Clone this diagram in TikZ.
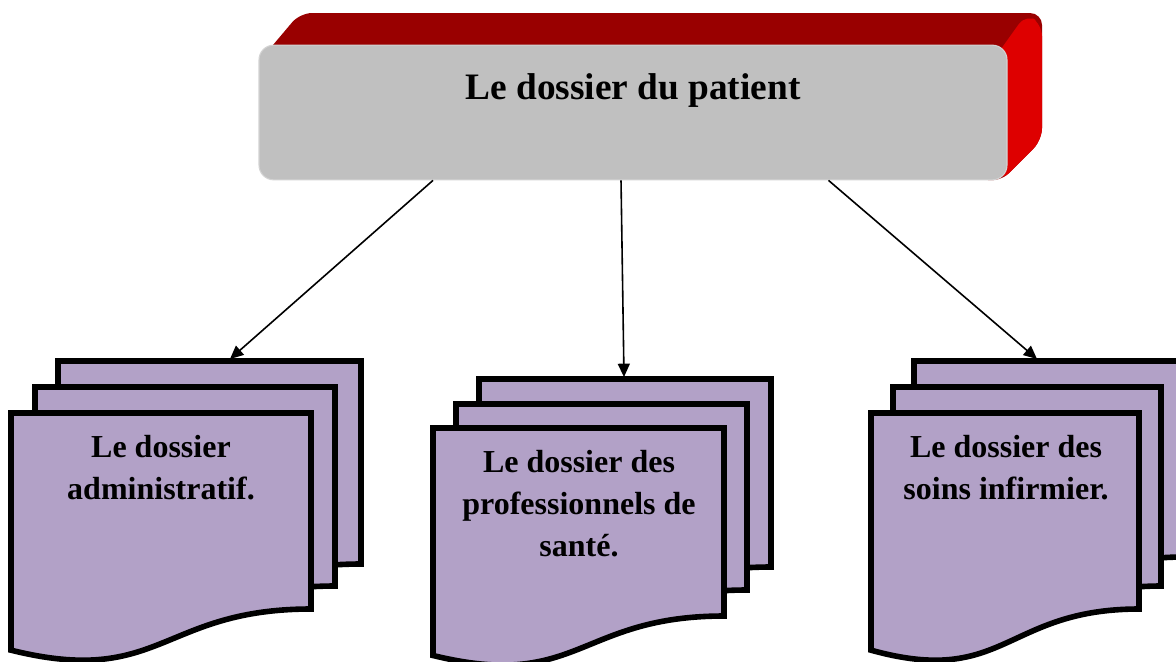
\documentclass[tikz,border=0pt]{standalone}
\usepackage{fontspec}
\setmainfont{Liberation Serif}
\usetikzlibrary{arrows.meta,calc,positioning}

\definecolor{pagefill}{RGB}{178,161,199}
\definecolor{boxgray}{RGB}{192,192,192}
\definecolor{topred}{RGB}{153,0,0}
\definecolor{sidered}{RGB}{222,0,0}

\tikzset{
  page/.style={fill=pagefill, draw=black, line width=4.2pt, line join=miter},
  titlebox/.style={rectangle, rounded corners=11pt, fill=boxgray, draw=boxgray!70!white, line width=0.8pt, minimum width=561pt, minimum height=101pt, inner sep=0pt},
  titletext/.style={font=\fontsize{28}{34}\selectfont\bfseries, inner sep=0pt},
  pagetext/.style={font=\fontsize{24}{31.5}\selectfont\bfseries, align=center, inner sep=0pt},
  link/.style={-{Triangle[length=10pt,width=9pt]}, line width=1.2pt},
  pics/docpage/.style args={#1/#2}{code={
    \draw[page, yscale=-1] (0,0) -- (#1,0) -- (#1,#2) .. controls (0.5*#1,#2) and (0.5*#1,1.4*#2) .. (0,1.21*#2) -- cycle;
  }},
}

\begin{document}
\begin{tikzpicture}[x=0.75pt,y=0.75pt,yscale=-1,xscale=1]
\useasboundingbox (0,0) rectangle (1176,661);

% red block behind the title
\fill[topred, rounded corners=9pt] (262,58) -- (300,13) -- (1042,13) -- (1042,140) -- (1000,182) -- cycle;
\fill[sidered, rounded corners=9pt] (996,56) -- (1026,14) -- (1042,24) -- (1042,140) -- (1000,182) -- cycle;

% title
\node[titlebox] (patient) at (633,112.5) {};
\node[titletext, anchor=base] (patienttxt) at (633,99) {Le dossier du patient};

% left stack
\pic (admback) at (58,361) {docpage=303/203};
\pic (admmid) at (35,387) {docpage=300/199};
\pic (admfront) at (11,413) {docpage=300/196};
\node[pagetext, anchor=base] (admtxt) at (161,499) {Le dossier\\administratif.};

% middle stack
\pic (proback) at (479,379) {docpage=292/188};
\pic (promid) at (456,404) {docpage=291/186};
\pic (profront) at (433,428) {docpage=291/188};
\node[pagetext, anchor=base] (protxt) at (579,556) {Le dossier des\\professionnels de\\sant\'e.};

% right stack
\pic (soiback) at (914,361) {docpage=270/196};
\pic (soimid) at (893,387) {docpage=268/199};
\pic (soifront) at (871,413) {docpage=268/196};
\node[pagetext, anchor=base] (soitxt) at (1006,499) {Le dossier des\\soins infirmier.};

% arrows
\coordinate (admtip) at (230,359);
\coordinate (protip) at (624,377);
\coordinate (soitip) at (1037,359);
\draw[link] ($(patient.south west)!0.233!(patient.south east)$) -- (admtip);
\draw[link] ($(patient.south west)!0.484!(patient.south east)$) -- (protip);
\draw[link] ($(patient.south west)!0.761!(patient.south east)$) -- (soitip);

\end{tikzpicture}
\end{document}
